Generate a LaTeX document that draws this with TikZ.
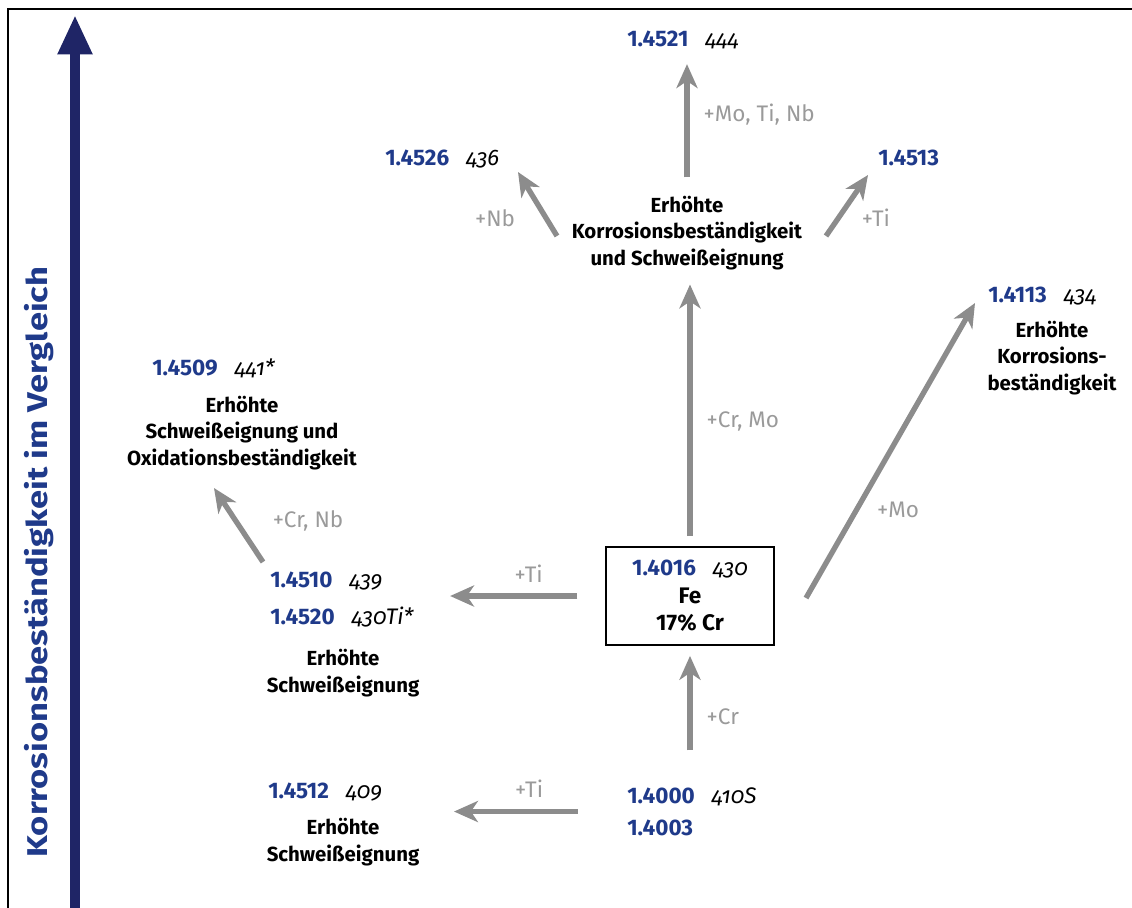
\documentclass[tikz,border=0pt]{standalone}
\usepackage{fontspec}
\setmainfont{Fira Sans}
\newfontfamily\oldstyle[Numbers=OldStyle]{Fira Sans}
\usetikzlibrary{arrows.meta,positioning}

\definecolor{gradeblue}{HTML}{1F3A8A}
\definecolor{axisblue}{HTML}{1F2566}
\definecolor{flowgray}{HTML}{8C8C8C}
\definecolor{addgray}{HTML}{9A9A9A}

\newcommand{\grade}[2]{{\color{gradeblue}\bfseries #1}\hspace{0.75em}{\oldstyle\itshape #2}}

\tikzset{
  every node/.style={inner sep=0pt},
  grade/.style={font=\fontsize{16}{23}\selectfont, align=left},
  prop/.style={font=\fontsize{14.5}{19}\selectfont\bfseries, align=center},
  add/.style={font=\fontsize{16}{18}\selectfont, text=addgray},
  flow/.style={draw=flowgray, line width=3.8pt, -{Stealth[length=17pt,width=15pt,inset=5pt]}},
  axis/.style={draw=axisblue, line width=7pt, -{Triangle[length=28pt,width=23pt]}},
}

\begin{document}
\begin{tikzpicture}[x=0.025cm, y=-0.025cm]
  \useasboundingbox (0,0) rectangle (1132,908);
  \draw[line width=1pt] (1132,9) -- (8,9) -- (8,908);

  \coordinate (axbot) at (75,908);
  \coordinate (axtop) at (75,15);
  \draw[axis] (axbot) -- (axtop);
  \node[rotate=90, anchor=base, text=gradeblue] (title) at (48,562)
    {\resizebox{420pt}{16.5pt}{\bfseries Korrosionsbeständigkeit im Vergleich}};

  \node[draw, line width=1.2pt, minimum width=119pt, minimum height=70pt, align=center,
    font=\fontsize{16}{19.5}\selectfont] (n4016) at (690,596)
    {\grade{1.4016}{430}\\ \bfseries Fe\\ \bfseries 17\% Cr};

  \node[grade, anchor=north west] (n4000) at (627,787)
    {\grade{1.4000}{410S}\\ {\color{gradeblue}\bfseries 1.4003}};
  \node[grade, anchor=base west] (n4512) at (268,798) {\grade{1.4512}{409}};
  \node[prop] (t4512) at (343,842) {Erhöhte\\Schweißeignung};

  \node[grade, anchor=north west, font=\fontsize{16}{26}\selectfont] (n4510) at (270,572)
    {\grade{1.4510}{439}\\ \grade{1.4520}{430Ti*}};
  \node[prop] (t4510) at (343,673) {Erhöhte\\Schweißeignung};

  \node[grade, anchor=base west] (n4509) at (152,375) {\grade{1.4509}{441*}};
  \node[prop] (t4509) at (242,433) {Erhöhte\\Schweißeignung und\\Oxidationsbeständigkeit};

  \node[prop] (ttop) at (687,233) {Erhöhte\\Korrosionsbeständigkeit\\und Schweißeignung};
  \node[grade, anchor=base west] (n4521) at (627,46) {\grade{1.4521}{444}};
  \node[grade, anchor=base west] (n4526) at (385,165) {\grade{1.4526}{436}};
  \node[grade, anchor=base west] (n4513) at (878,165) {{\color{gradeblue}\bfseries 1.4513}};

  \node[grade, anchor=base west] (n4113) at (988,302) {\grade{1.4113}{434}};
  \node[prop] (t4113) at (1052,358) {Erhöhte\\Korrosions-\\beständigkeit};

  \draw[flow, shorten <=26pt, shorten >=7pt] (n4016.south |- n4000.north) -- (n4016.south)
    node[add, midway, right=10pt] (cr) {+Cr};
  \draw[flow, shorten <=20pt, shorten >=26pt] (n4016.west) -- (n4016.west -| n4510.east)
    node[add, pos=0.4, above=8pt] (ti1) {+Ti};
  \draw[flow, shorten <=35pt, shorten >=51pt] (n4000.west) -- (n4000.west -| n4512.east)
    node[add, pos=0.4, above=8pt] (ti2) {+Ti};
  \draw[flow, shorten <=7pt, shorten >=10pt] (n4016.north) -- (n4016.north |- ttop.south)
    node[add, pos=0.45, right=10pt] (crmo) {+Cr, Mo};
  \draw[flow, shorten <=13pt, shorten >=11pt] (ttop.north) -- (ttop.north |- n4521.south)
    node[add, pos=0.55, right=10pt] (motinb) {+Mo, Ti, Nb};

  \coordinate (crnbA) at (263,562);
  \coordinate (crnbB) at (214,488);
  \draw[flow] (crnbA) -- (crnbB);
  \node[add] (crnb) at (308,521) {+Cr, Nb};

  \coordinate (nbA) at (557,236);
  \coordinate (nbB) at (518,172);
  \draw[flow] (nbA) -- (nbB);
  \node[add] (nb) at (495,218) {+Nb};

  \coordinate (tiA) at (826,236);
  \coordinate (tiB) at (868,175);
  \draw[flow] (tiA) -- (tiB);
  \node[add] (ti3) at (876,218) {+Ti};

  \coordinate (moA) at (806,598);
  \coordinate (moB) at (975,303);
  \draw[flow] (moA) -- (moB);
  \node[add] (mo) at (898,510) {+Mo};
\end{tikzpicture}
\end{document}
